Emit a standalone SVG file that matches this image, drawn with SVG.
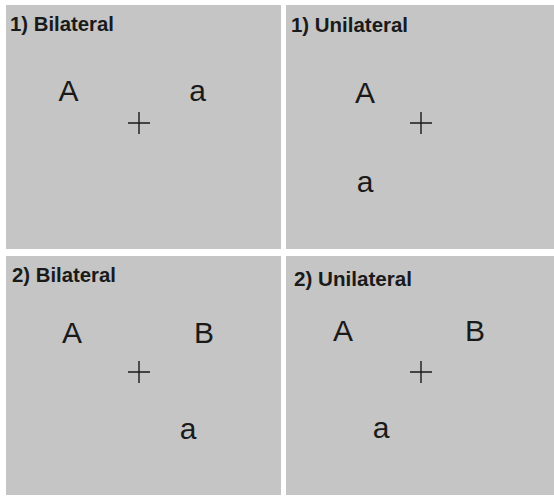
<svg xmlns="http://www.w3.org/2000/svg" width="554" height="497" viewBox="0 0 554 497">
  <style>
    .panel { fill: #c4c5c4; }
    .title { font-family: "Liberation Sans", Arial, sans-serif; font-weight: bold; font-size: 20px; fill: #1a1a1a; }
    .gene { font-family: "Liberation Sans", Arial, sans-serif; font-size: 30px; fill: #1a1a1a; text-anchor: middle; }
    .cross { stroke: #1a1a1a; stroke-width: 1.4; fill: none; }
  </style>
  <rect width="554" height="497" fill="#ffffff"/>

  <g id="panel-1-bilateral">
    <rect class="panel" x="6" y="5" width="275" height="244"/>
    <text class="title" x="10" y="31" textLength="104" lengthAdjust="spacingAndGlyphs">1) Bilateral</text>
    <text class="gene" x="68.5" y="101">A</text>
    <text class="gene" x="197.5" y="101">a</text>
    <path class="cross" d="M128 123 H150 M139 112 V134"/>
  </g>

  <g id="panel-1-unilateral">
    <rect class="panel" x="286" y="5" width="268" height="244"/>
    <text class="title" x="291" y="32" textLength="117" lengthAdjust="spacingAndGlyphs">1) Unilateral</text>
    <text class="gene" x="365" y="103">A</text>
    <text class="gene" x="365" y="192">a</text>
    <path class="cross" d="M410 123 H432 M421 112 V134"/>
  </g>

  <g id="panel-2-bilateral">
    <rect class="panel" x="6" y="256" width="275" height="239"/>
    <text class="title" x="12" y="282" textLength="104" lengthAdjust="spacingAndGlyphs">2) Bilateral</text>
    <text class="gene" x="72" y="343">A</text>
    <text class="gene" x="204" y="343">B</text>
    <text class="gene" x="188" y="439">a</text>
    <path class="cross" d="M128 372 H150 M139 361 V383"/>
  </g>

  <g id="panel-2-unilateral">
    <rect class="panel" x="286" y="256" width="268" height="239"/>
    <text class="title" x="294" y="286" textLength="118" lengthAdjust="spacingAndGlyphs">2) Unilateral</text>
    <text class="gene" x="343" y="341">A</text>
    <text class="gene" x="475" y="341">B</text>
    <text class="gene" x="381" y="438">a</text>
    <path class="cross" d="M410 372 H432 M421 361 V383"/>
  </g>

  <g id="connectors"></g>
</svg>
